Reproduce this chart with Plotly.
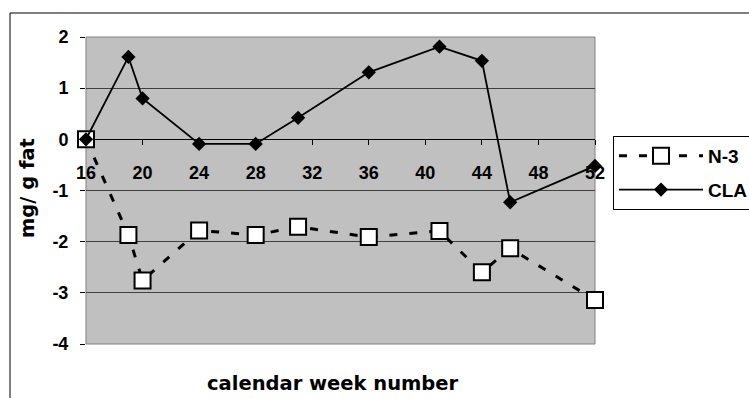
import plotly.graph_objects as go

# ---- data ----
weeks = [16, 19, 20, 24, 28, 31, 36, 41, 44, 46, 52]
n3_values = [0, -1.87, -2.76, -1.78, -1.87, -1.71, -1.91, -1.79, -2.60, -2.13, -3.14]
cla_values = [0, 1.61, 0.80, -0.09, -0.09, 0.42, 1.31, 1.81, 1.535, -1.23, -0.52]

x_tickvals = [16, 20, 24, 28, 32, 36, 40, 44, 48, 52]
x_ticktext = ["16", "20", "24", "28", "32", "36", "40", "44", "48", "52"]
y_tickvals = [-4, -3, -2, -1, 0, 1, 2]
y_ticktext = ["-4", "-3", "-2", "-1", "0", "1", "2"]

series_names = ["N-3", "CLA"]
x_title = "calendar week number"
y_title = "mg/ g fat"

TICK_FONT = dict(family="Liberation Sans, Arial", size=18, color="black", weight="bold")
TITLE_FONT = dict(family="DejaVu Sans", size=19.5, color="black", weight="bold")

fig = go.Figure()

fig.add_trace(go.Scatter(
    x=weeks, y=n3_values, name=series_names[0], mode="lines+markers",
    legendgroup="a", cliponaxis=False,
    line=dict(color="black", width=3, dash="8px,12px"),
    marker=dict(symbol="square", size=16, color="white", line=dict(color="black", width=2)),
))
fig.add_trace(go.Scatter(
    x=weeks, y=cla_values, name=series_names[1], mode="lines+markers",
    legendgroup="b", cliponaxis=False,
    line=dict(color="black", width=1.8),
    marker=dict(symbol="diamond", size=11, color="black", line=dict(color="black", width=0)),
))

fig.update_layout(
    width=749, height=398, autosize=False,
    margin=dict(l=86, r=154, t=37, b=54, autoexpand=False),
    paper_bgcolor="white", plot_bgcolor="#C0C0C0",
    showlegend=True,
    legend=dict(
        x=1.0354, y=0.6775, xanchor="left", yanchor="top",
        bgcolor="white", bordercolor="black", borderwidth=1,
        font=dict(family="Liberation Sans, Arial", size=19, color="black", weight="bold"),
        itemwidth=84, tracegroupgap=6, traceorder="grouped",
    ),
    xaxis=dict(
        range=[16, 52], anchor="free", position=4 / 6,
        tickvals=x_tickvals, ticktext=x_ticktext, tickfont=TICK_FONT,
        ticks="outside", ticklen=5, tickcolor="black", tickwidth=1,
        ticklabelstandoff=12,
        showline=True, linecolor="black", linewidth=1,
        showgrid=False, zeroline=False, layer="below traces",
    ),
    yaxis=dict(
        range=[-4, 2], tickvals=y_tickvals, ticktext=y_ticktext, tickfont=TICK_FONT,
        ticks="outside", ticklen=5, tickcolor="black", tickwidth=1,
        ticklabelstandoff=8,
        showgrid=True, gridcolor="#404040", gridwidth=1,
        zeroline=False, showline=False,
    ),
    shapes=[
        # plot-area border
        dict(type="rect", xref="paper", yref="paper", x0=0, x1=1, y0=0, y1=1,
             line=dict(color="#808080", width=1), layer="between"),
        # outer chart border (extends past the window edges)
        dict(type="rect", xref="paper", yref="paper", x0=-0.1493, x1=1.45, y0=-0.3, y1=1.0782,
             line=dict(color="black", width=1), layer="above"),
    ],
    annotations=[
        dict(text=x_title, xref="paper", yref="paper", x=0.485, y=-0.128,
             showarrow=False, font=TITLE_FONT, xanchor="center", yanchor="middle"),
        dict(text=y_title, xref="paper", yref="paper", x=-0.116, y=0.508, textangle=-90,
             showarrow=False, font=TITLE_FONT, xanchor="center", yanchor="middle"),
    ],
)

fig.write_html("out.html", config={"displayModeBar": False},
               post_script="document.body.style.margin='0';")
